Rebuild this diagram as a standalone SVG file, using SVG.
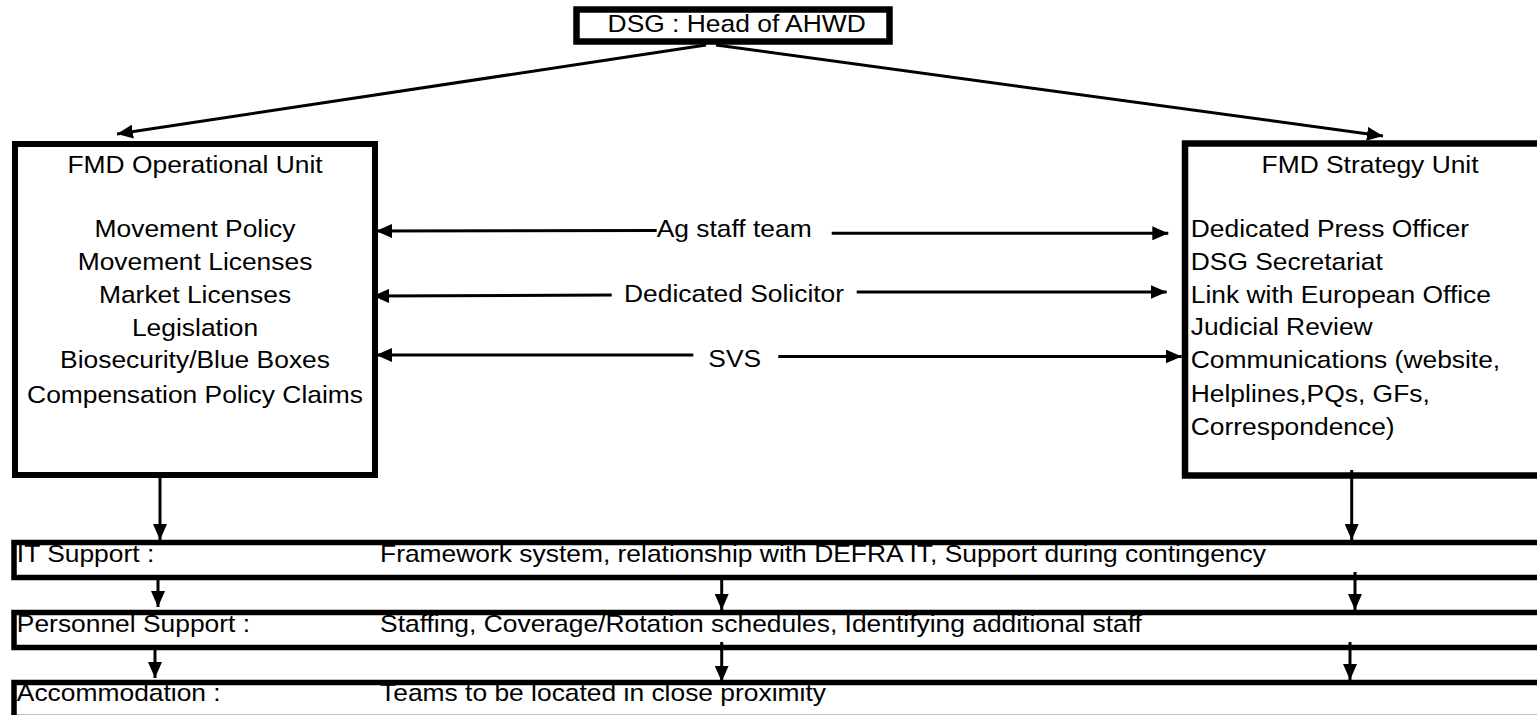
<svg xmlns="http://www.w3.org/2000/svg" width="1537" height="715" viewBox="0 0 1537 715">
<defs>
<style>
.box{fill:#fff;stroke:#000;stroke-width:6}
.band{fill:#fff;stroke:#000;stroke-width:5.5}
.t{font-family:"Liberation Sans",Arial,Helvetica,sans-serif;font-size:24px;fill:#000}
.m{text-anchor:middle}
.c{stroke:#000;stroke-width:3;fill:none;marker-end:url(#ah)}
</style>
<marker id="ah" markerUnits="userSpaceOnUse" markerWidth="16" markerHeight="14" refX="16" refY="7" orient="auto" viewBox="0 0 16 14">
<path d="M0,0 L16,7 L0,14 z" fill="#000"/>
</marker>
</defs>
<rect x="0" y="0" width="1537" height="715" fill="#fff"/>

<g id="dsg">
<rect class="box" x="576.5" y="9.5" width="313" height="32" style="stroke-width:6.5"/>
<text class="t m" transform="scale(1.1 1)" x="669.7" y="32">DSG : Head of AHWD</text>
</g>

<g id="operational">
<rect class="box" x="15" y="144" width="360" height="331"/>
<text class="t m" transform="scale(1.1 1)" x="177.3" y="172.7">FMD Operational Unit</text>
<text class="t m" transform="scale(1.1 1)" x="177.3" y="236.7">Movement Policy</text>
<text class="t m" transform="scale(1.1 1)" x="177.3" y="270">Movement Licenses</text>
<text class="t m" transform="scale(1.1 1)" x="177.3" y="302.7">Market Licenses</text>
<text class="t m" transform="scale(1.1 1)" x="177.3" y="336">Legislation</text>
<text class="t m" transform="scale(1.1 1)" x="177.3" y="368.3">Biosecurity/Blue Boxes</text>
<text class="t m" transform="scale(1.1 1)" x="177.3" y="402.7">Compensation Policy Claims</text>
</g>

<g id="strategy">
<rect class="box" x="1185" y="143.5" width="420" height="332" style="stroke-width:6.5"/>
<text class="t m" transform="scale(1.1 1)" x="1245.5" y="173.3">FMD Strategy Unit</text>
<text class="t" transform="scale(1.1 1)" x="1082.5" y="236.7">Dedicated Press Officer</text>
<text class="t" transform="scale(1.1 1)" x="1082.5" y="270">DSG Secretariat</text>
<text class="t" transform="scale(1.1 1)" x="1082.5" y="302.7">Link with European Office</text>
<text class="t" transform="scale(1.1 1)" x="1082.5" y="335">Judicial Review</text>
<text class="t" transform="scale(1.1 1)" x="1082.5" y="368.3">Communications (website,</text>
<text class="t" transform="scale(1.1 1)" x="1082.5" y="401.7">Helplines,PQs, GFs,</text>
<text class="t" transform="scale(1.1 1)" x="1082.5" y="435">Correspondence)</text>
</g>

<g id="it-support">
<rect class="band" x="14" y="542.5" width="1600" height="35"/>
<text class="t" transform="scale(1.1 1)" x="15.3" y="561.7">IT Support :</text>
<text class="t" transform="scale(1.1 1)" x="345.5" y="561.7">Framework system, relationship with DEFRA IT, Support during contingency</text>
</g>

<g id="personnel-support">
<rect class="band" x="14" y="612.5" width="1600" height="35"/>
<text class="t" transform="scale(1.1 1)" x="15.3" y="631.7">Personnel Support :</text>
<text class="t" transform="scale(1.1 1)" x="345.5" y="631.7">Staffing, Coverage/Rotation schedules, Identifying additional staff</text>
</g>

<g id="accommodation">
<rect class="band" x="14" y="682.5" width="1600" height="35"/>
<text class="t" transform="scale(1.1 1)" x="15.3" y="700.7">Accommodation :</text>
<text class="t" transform="scale(1.1 1)" x="345.5" y="700.7">Teams to be located in close proximity</text>
</g>

<g id="links">
<text class="t" transform="scale(1.1 1)" x="597" y="236.7">Ag staff team</text>
<text class="t" transform="scale(1.1 1)" x="567.3" y="301.7">Dedicated Solicitor</text>
<text class="t" transform="scale(1.1 1)" x="643.9" y="366.7">SVS</text>
</g>

<g id="connectors">
<line class="c" x1="706" y1="45" x2="117" y2="134"/>
<line class="c" x1="716" y1="45" x2="1383" y2="136"/>
<line class="c" x1="656.7" y1="230.5" x2="376" y2="231"/>
<line class="c" x1="831.7" y1="233.3" x2="1168.3" y2="233.3"/>
<line class="c" x1="611.7" y1="295" x2="373" y2="296"/>
<line class="c" x1="856.7" y1="292" x2="1166.7" y2="292"/>
<line class="c" x1="693.3" y1="355" x2="376" y2="355"/>
<line class="c" x1="778.3" y1="356.5" x2="1181.7" y2="356.5"/>
<line class="c" x1="160" y1="478" x2="160" y2="540"/>
<line class="c" x1="158" y1="580" x2="158" y2="607"/>
<line class="c" x1="155" y1="650" x2="155" y2="678"/>
<line class="c" x1="721.7" y1="575" x2="721.7" y2="610"/>
<line class="c" x1="721.7" y1="642" x2="721.7" y2="681.7"/>
<line class="c" x1="1351.7" y1="470" x2="1351.7" y2="540"/>
<line class="c" x1="1355" y1="572" x2="1355" y2="610"/>
<line class="c" x1="1350" y1="642" x2="1350" y2="680"/>
</g>
</svg>
